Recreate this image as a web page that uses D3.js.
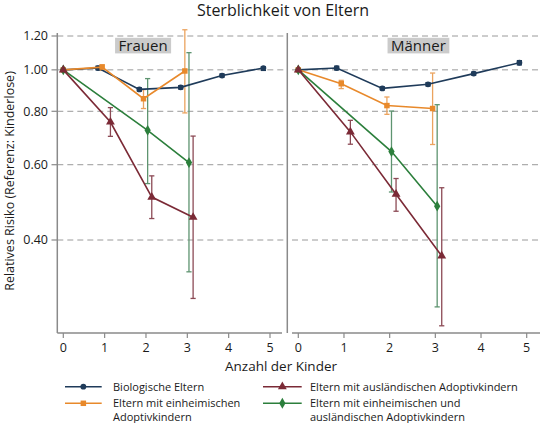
<!DOCTYPE html>
<html><head><meta charset="utf-8">
<script src="https://cdn.jsdelivr.net/npm/d3@7"></script>
<style>
html,body{margin:0;padding:0;background:#fff;}
svg{display:block;font-family:"Open Sans","Noto Sans",sans-serif;}
</style></head>
<body>
<svg id="c" width="540" height="423"></svg>
<script>
// ---------- data ----------
const kinder = [0, 1, 2, 3, 4, 5];
const kinderKurz = [0, 1, 2, 3];
const kinderBeide = [0, 2, 3];
const xTicks = [0, 1, 2, 3, 4, 5];
const yTicks = [0.40, 0.60, 0.80, 1.00, 1.20];
const panelNames = ["Frauen", "Männer"];
const seriesNames = ["Biologische Eltern", "Eltern mit einheimischen Adoptivkindern",
  "Eltern mit ausländischen Adoptivkindern", "Eltern mit einheimischen und ausländischen Adoptivkindern"];
const seriesColors = ["#1f3b5a", "#e8892b", "#7b2a36", "#2c7f3c"];
const ciColors = ["#1f3b5a", "#eba35e", "#8c4a55", "#5e9470"];

// Frauen
const fBioRR = [1.00, 1.01, 0.90, 0.91, 0.97, 1.01];
const fBioLo = [null, 1.00, 0.892, 0.902, 0.962, 0.997];
const fBioHi = [null, 1.02, 0.908, 0.918, 0.978, 1.017];
const fEinRR = [1.00, 1.015, 0.856, 0.994];
const fEinLo = [null, 0.997, 0.812, 0.793];
const fEinHi = [null, 1.028, 0.899, 1.241];
const fAusRR = [1.00, 0.755, 0.504, 0.452];
const fAusLo = [null, 0.699, 0.449, 0.292];
const fAusHi = [null, 0.816, 0.565, 0.700];
const fBeideRR = [1.00, 0.722, 0.607];
const fBeideLo = [null, 0.542, 0.337];
const fBeideHi = [null, 0.954, 1.097];

// Männer
const mBioRR = [1.00, 1.01, 0.905, 0.925, 0.98, 1.039];
const mBioLo = [null, 1.00, 0.898, 0.917, 0.972, 1.027];
const mBioHi = [null, 1.02, 0.912, 0.933, 0.988, 1.051];
const mEinRR = [1.00, 0.928, 0.825, 0.812];
const mEinLo = [null, 0.904, 0.787, 0.669];
const mEinHi = [null, 0.945, 0.864, 0.983];
const mAusRR = [1.00, 0.716, 0.512, 0.367];
const mAusLo = [null, 0.670, 0.467, 0.252];
const mAusHi = [null, 0.762, 0.557, 0.530];
const mBeideRR = [1.00, 0.644, 0.480];
const mBeideLo = [null, 0.518, 0.279];
const mBeideHi = [null, 0.801, 0.829];

// ---------- build ----------
function mk(xs, rr, lo, hi) { return xs.map((x, i) => ({x, rr: rr[i], lo: lo[i], hi: hi[i]})); }
const panelData = [
  [mk(kinder, fBioRR, fBioLo, fBioHi), mk(kinderKurz, fEinRR, fEinLo, fEinHi),
   mk(kinderKurz, fAusRR, fAusLo, fAusHi), mk(kinderBeide, fBeideRR, fBeideLo, fBeideHi)],
  [mk(kinder, mBioRR, mBioLo, mBioHi), mk(kinderKurz, mEinRR, mEinLo, mEinHi),
   mk(kinderKurz, mAusRR, mAusLo, mAusHi), mk(kinderBeide, mBeideRR, mBeideLo, mBeideHi)]
];
const offsets = [-0.16, -0.06, 0.14, 0.04];
const markerTypes = [d3.symbolCircle, d3.symbolSquare, d3.symbolTriangle, d3.symbolDiamond];
const markerSizes = [26, 30, 34, 34];

const svg = d3.select("#c");
const grid = "#9a9a9a", axisC = "#8a8a8a";

const y = d3.scaleLog().domain([0.4, 1.2]).range([240, 36]);
const plotTop = 33, plotBot = 333;

const panels = [
  {x: d3.scaleLinear().domain([0, 5]).range([63.3, 270]), left: 57.3, right: 287.3, axL: 57.3, axR: 282, gridL: 57.3, gridR: 287.3, lab: 1.93},
  {x: d3.scaleLinear().domain([0, 5]).range([298.3, 526.7]), left: 287.3, right: 540, axL: 292, axR: 540, gridL: 292, gridR: 540, lab: 2.63}
];

// title
svg.append("text").attr("x", 283).attr("y", 15.5).attr("text-anchor", "middle")
  .attr("font-size", 16).attr("fill", "#1a1a1a").text("Sterblichkeit von Eltern");

// y axis title
svg.append("text").attr("transform", "translate(14,181) rotate(-90)").attr("text-anchor", "middle")
  .attr("font-size", 12.5).attr("fill", "#1a1a1a").text("Relatives Risiko (Referenz: Kinderlose)");

// y tick labels & ticks (left)
yTicks.forEach(t => {
  svg.append("text").attr("x", 48).attr("y", y(t)).attr("dy", "0.35em").attr("text-anchor", "end")
    .attr("font-size", 12.5).attr("fill", "#1a1a1a").text(d3.format(".2f")(t));
  svg.append("line").attr("x1", 51.5).attr("x2", 57.3).attr("y1", y(t)).attr("y2", y(t))
    .attr("stroke", axisC).attr("stroke-width", 1.2);
});

panels.forEach((p, pi) => {
  const g = svg.append("g");
  // grid
  yTicks.forEach(t => {
    g.append("line").attr("x1", p.gridL).attr("x2", p.gridR).attr("y1", y(t)).attr("y2", y(t))
      .attr("stroke", grid).attr("stroke-width", 1).attr("stroke-dasharray", "6,4");
  });
  // x axis
  g.append("line").attr("x1", p.axL).attr("x2", p.axR).attr("y1", plotBot).attr("y2", plotBot)
    .attr("stroke", axisC).attr("stroke-width", 1.5);
  xTicks.forEach(t => {
    g.append("line").attr("x1", p.x(t)).attr("x2", p.x(t)).attr("y1", plotBot).attr("y2", plotBot + 5)
      .attr("stroke", axisC).attr("stroke-width", 1.2);
    g.append("text").attr("x", p.x(t)).attr("y", 351.5).attr("text-anchor", "middle")
      .attr("font-size", 12.5).attr("fill", "#1a1a1a").text(t);
  });
  // y axis line
  g.append("line").attr("x1", p.left).attr("x2", p.left).attr("y1", plotTop).attr("y2", plotBot)
    .attr("stroke", axisC).attr("stroke-width", 1.5);

  // panel label
  const lx = p.x(p.lab);
  const lt = g.append("text").attr("x", lx).attr("y", 45.8).attr("dy", "0.36em").attr("text-anchor", "middle")
    .attr("font-size", 15).attr("fill", "#1a1a1a").text(panelNames[pi]);
  const bb = lt.node().getBBox();
  g.insert("rect", "text").attr("x", bb.x - 3.5).attr("y", 37.8).attr("width", bb.width + 7).attr("height", 15.6)
    .attr("fill", "#cbcbcb");
  lt.raise();

  const xp = (d, si) => p.x(d.x === 0 ? 0 : d.x + offsets[si]);
  const order = [0, 1, 3, 2];
  // CIs
  order.forEach(si => {
    const data = panelData[pi][si].filter(d => d.lo != null);
    const cg = g.append("g").attr("stroke", ciColors[si]).attr("stroke-width", 1.3).attr("fill", "none");
    data.forEach(d => {
      const xx = xp(d, si);
      cg.append("line").attr("x1", xx).attr("x2", xx).attr("y1", y(d.lo)).attr("y2", y(d.hi));
      cg.append("line").attr("x1", xx - 2.6).attr("x2", xx + 2.6).attr("y1", y(d.lo)).attr("y2", y(d.lo));
      cg.append("line").attr("x1", xx - 2.6).attr("x2", xx + 2.6).attr("y1", y(d.hi)).attr("y2", y(d.hi));
    });
  });
  // lines + markers
  order.forEach(si => {
    const data = panelData[pi][si];
    g.append("path").datum(data)
      .attr("d", d3.line().x(d => xp(d, si)).y(d => y(d.rr)))
      .attr("fill", "none").attr("stroke", seriesColors[si]).attr("stroke-width", 1.6);
    g.selectAll(null).data(data).enter().append("path")
      .attr("transform", d => `translate(${xp(d, si)},${y(d.rr)})`)
      .attr("d", d3.symbol().type(markerTypes[si]).size(markerSizes[si]))
      .attr("fill", seriesColors[si]);
  });
});

// x axis title
svg.append("text").attr("x", 281).attr("y", 371).attr("text-anchor", "middle")
  .attr("font-size", 13.5).attr("fill", "#1a1a1a").text("Anzahl der Kinder");

// legend
const legendPos = [
  {lx1: 65, lx2: 101.7, tx: 113, y: 386.7, lines: ["Biologische Eltern"]},
  {lx1: 65, lx2: 101.7, tx: 113, y: 403.3, lines: ["Eltern mit einheimischen", "Adoptivkindern"]},
  {lx1: 263, lx2: 301.7, tx: 310, y: 386.7, lines: ["Eltern mit ausländischen Adoptivkindern"]},
  {lx1: 263, lx2: 301.7, tx: 310, y: 403.3, lines: ["Eltern mit einheimischen und", "ausländischen Adoptivkindern"]}
];
legendPos.forEach((L, si) => {
  const lg = svg.append("g");
  lg.append("line").attr("x1", L.lx1).attr("x2", L.lx2).attr("y1", L.y).attr("y2", L.y)
    .attr("stroke", seriesColors[si]).attr("stroke-width", 1.5);
  lg.append("path").attr("transform", `translate(${(L.lx1 + L.lx2) / 2},${L.y})`)
    .attr("d", d3.symbol().type(markerTypes[si]).size(markerSizes[si])).attr("fill", seriesColors[si]);
  L.lines.forEach((s, k) => {
    lg.append("text").attr("x", L.tx).attr("y", L.y + k * 13.5).attr("dy", "0.35em")
      .attr("font-size", 11).attr("fill", "#1a1a1a").text(s);
  });
});
</script>
</body></html>
